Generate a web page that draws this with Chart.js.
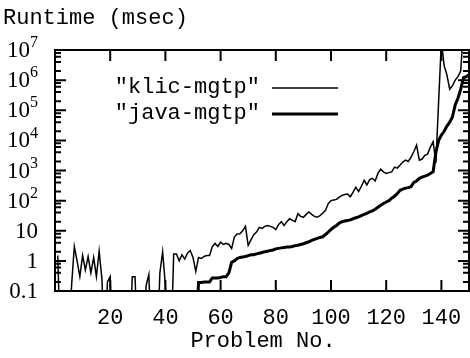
<!DOCTYPE html>
<html>
<head>
<meta charset="utf-8">
<script src="https://cdn.jsdelivr.net/npm/chart.js@4.4.1/dist/chart.umd.min.js"></script>
<style>
  html, body { margin: 0; padding: 0; background: #fff; }
  canvas { display: block; }
</style>
</head>
<body>
<canvas id="runtimeChart" width="470" height="358"></canvas>
<script>
// Problem numbers 1..150
const problems = Array.from({ length: 150 }, (_, i) => i + 1)

// Runtime in msec (values below 0.1 fall off the bottom of the plot)
const klicTimes = [
  1.5, 0.001, 0.001, 0.001, 0.001, 0.15, 3, 1.0, 0.3, 1.5,
  0.5, 1.4, 0.4, 1.3, 0.3, 2.1, 0.25, 0.001, 0.2, 0.3,
  0.001, 0.001, 0.001, 0.001, 0.001, 0.001, 0.001, 0.3, 0.3, 0.001,
  0.001, 0.001, 0.15, 0.35, 0.001, 0.001, 0.001, 0.4, 2.0, 0.15,
  0.001, 0.001, 1.7, 1.7, 1.0, 1.6, 1.15, 1.8, 2.2, 1.3,
  0.45, 1.3, 1.2, 1.4, 1.5, 1.5, 3, 3.8, 3.0, 4.2,
  3.5, 3.8, 3.5, 2.6, 6.3, 7.8, 8, 10, 14, 3.3,
  5, 7.4, 9, 13, 12, 14, 15, 14, 13, 11,
  16, 20, 15, 20, 25, 22, 20, 37, 30, 28,
  35, 42, 35, 30, 28, 32, 38, 48, 80, 100,
  105, 110, 130, 150, 160, 165, 135, 190, 280, 200,
  300, 470, 330, 500, 550, 450, 800, 1100, 900, 800,
  850, 900, 1300, 1200, 1500, 1900, 2200, 2000, 2800, 4200,
  7000, 2200, 2400, 3200, 3500, 6000, 9000, 1800, 2e5, 2e7,
  3e6, 1.5e6, 5e5, 6.5e5, 1e6, 1.3e6, 2e6, 5e7, 5e7, 5e7
]

const javaTimes = [
  0.001, 0.001, 0.001, 0.001, 0.001, 0.001, 0.001, 0.001, 0.001, 0.001,
  0.001, 0.001, 0.001, 0.001, 0.001, 0.001, 0.001, 0.001, 0.001, 0.001,
  0.001, 0.001, 0.001, 0.001, 0.001, 0.001, 0.001, 0.001, 0.001, 0.001,
  0.001, 0.001, 0.001, 0.001, 0.001, 0.001, 0.001, 0.001, 0.001, 0.001,
  0.001, 0.001, 0.001, 0.001, 0.001, 0.001, 0.001, 0.001, 0.001, 0.001,
  0.001, 0.19, 0.19, 0.2, 0.2, 0.2, 0.27, 0.27, 0.27, 0.28,
  0.3, 0.3, 0.4, 0.9, 1.0, 1.2, 1.3, 1.35, 1.4, 1.5,
  1.6, 1.6, 1.7, 1.8, 1.9, 2.0, 2.1, 2.2, 2.3, 2.5,
  2.6, 2.7, 2.8, 2.9, 2.9, 3.0, 3.2, 3.3, 3.5, 3.7,
  4.0, 4.3, 4.8, 5.2, 5.6, 6.0, 6.3, 7.5, 9, 11,
  13, 15, 18, 20, 21, 22, 23, 25, 27, 29,
  32, 35, 38, 42, 46, 52, 60, 70, 80, 90,
  100, 120, 140, 170, 220, 240, 260, 270, 290, 400,
  450, 550, 600, 650, 700, 800, 900, 4000, 10000, 15000,
  20000, 30000, 40000, 60000, 150000, 250000, 500000, 1.2e6, 1.3e6, 1.5e6
]

const xTicks = [20, 40, 60, 80, 100, 120, 140]
const yExponents = [-1, 0, 1, 2, 3, 4, 5, 6, 7]
const yMinorSteps = [2, 4, 6, 8]

const seriesNames = ['"klic-mgtp"', '"java-mgtp"']

const MONO = '22px "Liberation Mono", monospace'
const SERIF = '"Liberation Serif", serif'

// gnuplot style frame, inward ticks, labels and key
const framePlugin = {
  id: "frame",
  afterDatasetsDraw(chart) {
    const { ctx, chartArea: a, scales } = chart
    const x = scales.x
    const y = scales.y
    ctx.save()
    ctx.strokeStyle = "#000"
    ctx.fillStyle = "#000"
    ctx.lineWidth = 2
    ctx.strokeRect(a.left, a.top, a.right - a.left, a.bottom - a.top)

    ctx.beginPath()
    xTicks.forEach((v) => {
      const px = x.getPixelForValue(v)
      ctx.moveTo(px, a.bottom)
      ctx.lineTo(px, a.bottom - 11)
      ctx.moveTo(px, a.top)
      ctx.lineTo(px, a.top + 11)
    })
    yExponents.forEach((e) => {
      const py = y.getPixelForValue(Math.pow(10, e))
      ctx.moveTo(a.left, py)
      ctx.lineTo(a.left + 11, py)
      ctx.moveTo(a.right, py)
      ctx.lineTo(a.right - 11, py)
      if (e < 7) {
        yMinorSteps.forEach((m) => {
          const pm = y.getPixelForValue(m * Math.pow(10, e))
          ctx.moveTo(a.left, pm)
          ctx.lineTo(a.left + 6, pm)
          ctx.moveTo(a.right, pm)
          ctx.lineTo(a.right - 6, pm)
        })
      }
    })
    ctx.stroke()

    // x tick labels
    ctx.font = MONO
    ctx.textAlign = "center"
    ctx.textBaseline = "middle"
    xTicks.forEach((v) => {
      ctx.fillText(String(v), x.getPixelForValue(v), 318)
    })
    ctx.fillText("Problem No.", (a.left + a.right) / 2 + 1, 341)

    // title
    ctx.textAlign = "left"
    ctx.fillText("Runtime (msec)", 3, 18)

    // y tick labels
    const labelRight = 38
    ctx.textAlign = "right"
    yExponents.forEach((e) => {
      const py = y.getPixelForValue(Math.pow(10, e)) + 1
      if (e <= 1) {
        ctx.font = "23px " + SERIF
        ctx.fillText(e === -1 ? "0.1" : e === 0 ? "1" : "10", labelRight, py)
      } else {
        ctx.font = "16px " + SERIF
        const sup = String(e)
        const w = ctx.measureText(sup).width
        ctx.fillText(sup, labelRight, py - 8)
        ctx.font = "23px " + SERIF
        ctx.fillText("10", labelRight - w, py)
      }
    })

    // key
    ctx.font = MONO
    ctx.textAlign = "right"
    const rows = [87, 113]
    const widths = [1.5, 3]
    seriesNames.forEach((name, i) => {
      ctx.fillText(name, 260, rows[i])
      ctx.beginPath()
      ctx.lineWidth = widths[i]
      ctx.moveTo(272, rows[i] + 1)
      ctx.lineTo(338, rows[i] + 1)
      ctx.stroke()
    })
    ctx.restore()
  },
}

const ctx = document.getElementById("runtimeChart").getContext("2d")

new Chart(ctx, {
  type: "line",
  data: {
    datasets: [
      {
        label: seriesNames[0],
        data: problems.map((p, i) => ({ x: p, y: klicTimes[i] })),
        borderColor: "#000",
        borderWidth: 1.5,
        pointRadius: 0,
        tension: 0,
        clip: 0,
      },
      {
        label: seriesNames[1],
        data: problems.map((p, i) => ({ x: p, y: javaTimes[i] })),
        borderColor: "#000",
        borderWidth: 3,
        pointRadius: 0,
        tension: 0,
        clip: 0,
      },
    ],
  },
  options: {
    responsive: false,
    animation: false,
    layout: {
      padding: { left: 55, right: 1, top: 50, bottom: 67 },
    },
    scales: {
      x: { type: "linear", min: 0, max: 150, display: false },
      y: { type: "logarithmic", min: 0.1, max: 1e7, display: false },
    },
    plugins: {
      legend: { display: false },
      tooltip: { enabled: false },
    },
  },
  plugins: [framePlugin],
})
</script>
</body>
</html>
